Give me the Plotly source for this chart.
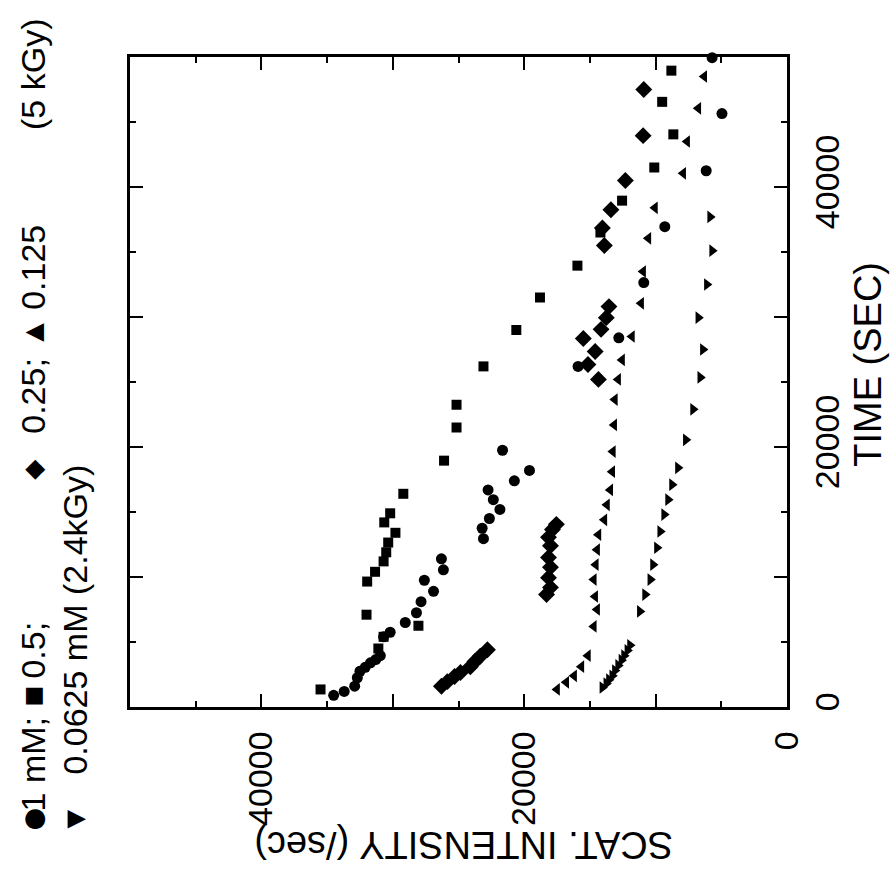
import plotly.graph_objects as go

# ---- data (intensity in counts/sec, time in sec) ----
c1_I = [34500, 33700, 32900, 32700, 32500, 32100, 31700, 31300, 30950, 30700, 30200, 29050, 28200, 27850,
        26900, 27600, 26150, 26300, 23100, 23200, 22650, 21850, 22350, 22750, 20750, 19600, 21650, 15900,
        12800, 10900, 9300, 6150, 4950, 5700]
c1_T = [900, 1200, 1600, 2250, 2750, 3050, 3400, 3650, 3950, 5400, 5750, 6500, 7250, 8100,
        8900, 9750, 10550, 11400, 12950, 13750, 14500, 15200, 15950, 16700, 17400, 18200, 19750, 26200,
        28400, 32650, 36950, 41250, 45650, 49950]

c05_I = [35500, 31100, 30700, 28050, 32000, 31950, 31350, 30700, 30500, 30350, 29800, 30650, 30200, 29200,
         26100, 25150, 25150, 23100, 20600, 18800, 15950, 14200, 12550, 10100, 8650, 9500, 8800]
c05_T = [1350, 4500, 5400, 6250, 7100, 9650, 10400, 11200, 11900, 12650, 13400, 14200, 14900, 16400,
         18950, 21500, 23250, 26200, 29000, 31500, 33950, 36500, 38950, 41500, 44050, 46550, 48950]

c025_I = [26300, 25850, 25300, 24850, 24100, 23750, 23350, 22800, 18300, 18000, 18150, 18000, 18150, 18000,
          18150, 17850, 17550, 14350, 15150, 14600, 15500, 14150, 13750, 13550, 13900, 14050, 13400, 12300,
          10950, 10900]
c025_T = [1600, 1950, 2350, 2650, 3100, 3500, 3900, 4400, 8650, 9200, 9950, 10750, 11500, 12400,
          13050, 13650, 14050, 25200, 26350, 27350, 28350, 29050, 29950, 30800, 35500, 36850, 38250, 40500,
          43950, 47500]

c0125_I = [17500, 16800, 16200, 15650, 15150, 14700, 14450, 14600, 14700, 14550, 14450, 14350, 13900, 13700,
           13450, 13300, 13250, 13150, 13100, 12850, 12550, 11800, 11100, 10950, 10550, 10050, 7900, 7600,
           6750, 6300]
c0125_T = [1350, 1900, 2400, 3100, 3950, 6200, 7500, 8500, 9800, 10950, 12100, 13250, 14400, 15550,
           16700, 18100, 19650, 21700, 23650, 25200, 26700, 28500, 31050, 33500, 36050, 38400, 41050, 43500,
           46050, 48500]

c00625_I = [14050, 13750, 13550, 13300, 13100, 12850, 12600, 12400, 12150, 11950, 11200, 10800, 10400, 10200,
            9900, 9650, 9350, 9050, 8750, 8300, 7700, 7150, 6600, 6400, 6750, 6100, 5700, 5850]
c00625_T = [1500, 1800, 2100, 2400, 2800, 3200, 3600, 3950, 4350, 4750, 7350, 8650, 9800, 10950,
            12250, 13500, 14800, 15950, 17100, 18400, 20550, 22900, 25350, 27500, 29950, 32500, 35100, 37700]

series = [
    (c1_I, c1_T, "circle", 11, "1 mM"),
    (c05_I, c05_T, "square", 10, "0.5 mM"),
    (c025_I, c025_T, "diamond", 13, "0.25 mM"),
    (c0125_I, c0125_T, "triangle-left", 11, "0.125 mM"),
    (c00625_I, c00625_T, "triangle-right", 11, "0.0625 mM"),
]

tick_major = [0, 10000, 20000, 30000, 40000, 50000]
tick_text = ["0", "", "20000", "", "40000", ""]
tick_minor = [5000, 15000, 25000, 35000, 45000]

FONT = "Liberation Sans, Arial, Helvetica, sans-serif"
SYMF = "DejaVu Sans, Liberation Sans, sans-serif"

fig = go.Figure()
for xs, ys, sym, sz, name in series:
    fig.add_trace(go.Scatter(x=xs, y=ys, mode="markers", name=name, cliponaxis=False,
                             marker=dict(symbol=sym, size=sz, color="black", line=dict(width=0))))

axis_common = dict(
    range=[0, 50000], tickmode="array", tickvals=tick_major, ticktext=tick_text,
    ticks="inside", ticklen=13, tickwidth=2, tickcolor="black",
    showline=True, linewidth=2.5, linecolor="black", mirror="ticks",
    showgrid=False, zeroline=False, tickangle=-90, automargin=False,
    tickfont=dict(family=FONT, size=34, color="black"),
    minor=dict(tickvals=tick_minor, ticks="inside", ticklen=6, tickwidth=2, tickcolor="black", showgrid=False),
)

fig.update_layout(
    width=890, height=874,
    margin=dict(l=130, r=103, t=57, b=167),
    paper_bgcolor="white", plot_bgcolor="white",
    showlegend=False,
    xaxis=dict(axis_common, range=[50000, 0], side="bottom", ticklabelstandoff=8),
    yaxis=dict(axis_common, side="right", ticklabelstandoff=8),
)

L, R, T, B = 130, 787, 57, 707.5


def px(xp):
    return (xp - L) / (R - L)


def py(yp):
    return (B - yp) / (B - T)


def ann(text, x, y, size, angle=-90, family=FONT):
    fig.add_annotation(text=text, x=px(x), y=py(y), xref="paper", yref="paper",
                       showarrow=False, textangle=angle, xanchor="center", yanchor="middle",
                       font=dict(family=family, size=size, color="black"))


# axis titles
ann("TIME (SEC)", 868, 365, 38)
ann("SCAT. INTENSITY (/sec)", 464, 845, 38, angle=180)

# legend text (rotated)
ann("●", 33, 820, 26, family=SYMF)
ann("1 mM;", 33, 765, 34)
ann("■", 33, 697, 22, family=SYMF)
ann("0.5;", 33, 651, 34)
ann("◆", 33, 470, 26, family=SYMF)
ann("0.25;", 33, 396, 34)
ann("▲", 33, 333, 24, family=SYMF)
ann("0.125", 33, 268, 34)
ann("(5 kGy)", 33, 75, 34)
ann("▼", 75, 820, 24, family=SYMF)
ann("0.0625 mM (2.4kGy)", 75, 620, 34)

fig.write_html("out.html")
